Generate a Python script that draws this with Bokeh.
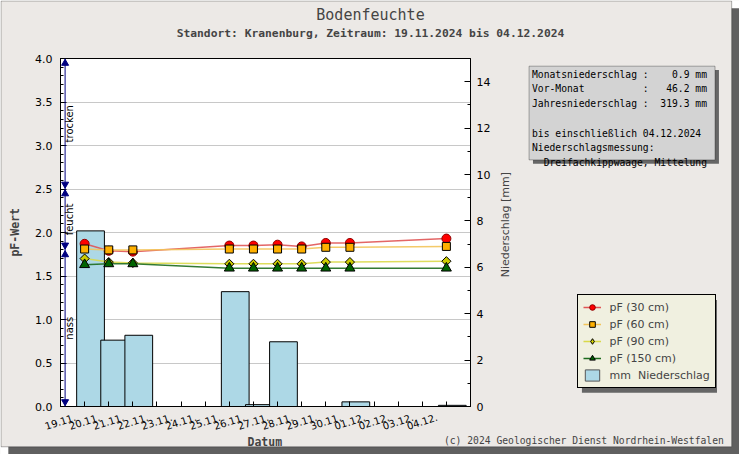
import math
import re
import pandas as pd
from bokeh.plotting import figure
from bokeh.models import (Range1d, LinearAxis, FixedTicker, SingleIntervalTicker,
                          PrintfTickFormatter, Label, BoxAnnotation, Legend,
                          LegendItem, Grid, Span, GridBox)
from bokeh.embed import file_html
from bokeh.resources import INLINE

# ---------------- data ----------------
START = "2024-11-19"
x_tick_labels = ["19.11.", "20.11.", "21.11.", "22.11.", "23.11.", "24.11.", "25.11.",
                 "26.11.", "27.11.", "28.11.", "29.11.", "30.11.", "01.12.", "02.12.",
                 "03.12.", "04.12."]

pf_dates = ["2024-11-20", "2024-11-21", "2024-11-22", "2024-11-26", "2024-11-27",
            "2024-11-28", "2024-11-29", "2024-11-30", "2024-12-01", "2024-12-05"]
pf_30 = [1.87, 1.79, 1.78, 1.85, 1.85, 1.86, 1.84, 1.88, 1.88, 1.93]
pf_60 = [1.81, 1.80, 1.80, 1.81, 1.81, 1.81, 1.81, 1.83, 1.83, 1.84]
pf_90 = [1.70, 1.66, 1.65, 1.64, 1.64, 1.64, 1.64, 1.66, 1.66, 1.67]
pf_150 = [1.63, 1.64, 1.64, 1.59, 1.59, 1.59, 1.59, 1.59, 1.59, 1.59]

rain_dates = ["2024-11-20", "2024-11-21", "2024-11-22", "2024-11-26", "2024-11-27",
              "2024-11-28", "2024-12-01", "2024-12-05"]
rain_mm = [7.57, 2.86, 3.07, 4.95, 0.08, 2.79, 0.20, 0.05]

zone_names = ["nass", "feucht", "trocken"]
zone_low = [0.0, 1.8, 2.5]
zone_high = [1.8, 2.5, 4.0]

info_lines = [
    "Monatsniederschlag :    0.9 mm",
    "Vor-Monat          :   46.2 mm",
    "Jahresniederschlag :  319.3 mm",
    "",
    "bis einschließlich 04.12.2024",
    "Niederschlagsmessung:",
    "  Dreifachkippwaage, Mittelung",
]

title_text = "Bodenfeuchte"
subtitle_text = "Standort: Kranenburg, Zeitraum: 19.11.2024 bis 04.12.2024"
copyright_text = "(c) 2024 Geologischer Dienst Nordrhein-Westfalen"

# ---------------- helpers ----------------
def day_index(dates):
    s = pd.Timestamp(START)
    return [(pd.Timestamp(d) - s).days for d in dates]


def keep_spaces(s):
    # runs of spaces would collapse in SVG text: use no-break spaces for them
    s = re.sub(r" {2,}", lambda m: "\u00a0" * len(m.group(0)), s)
    return s if s else "\u00a0"


W, H = 739, 454
SX, SY = W / 755, H / 470          # reference layout -> canvas


def ox(px):
    return px * SX


def oy(py):
    return py * SY


X_DAYS = 17
FL, FR = round(ox(61)), round(ox(480))
FT, FB = round(oy(60)), round(oy(420))
FW, FH = FR - FL, FB - FT


def day_x(px):          # reference pixel x -> day axis value
    return (ox(px) - FL) / FW * X_DAYS


BG = "#ece9e6"
MONO = "DejaVu Sans Mono"
SANS = "DejaVu Sans"
NAN = float("nan")

# ================= main chart =================
p = figure(width=W, height=H, x_range=Range1d(0, X_DAYS), y_range=Range1d(0, 4),
           output_backend="svg", toolbar_location=None,
           x_axis_type=None, y_axis_type=None,
           min_border_left=FL, min_border_right=W - FR,
           min_border_top=FT, min_border_bottom=H - FB,
           background_fill_color="white", border_fill_color=BG,
           outline_line_color="black", outline_line_width=1)
p.frame_align = False
p.extra_y_ranges = {"rain": Range1d(0, 15)}

left = LinearAxis(ticker=SingleIntervalTicker(interval=0.5, num_minor_ticks=5),
                  formatter=PrintfTickFormatter(format="%.1f"),
                  major_tick_in=6, major_tick_out=0, minor_tick_in=3, minor_tick_out=0,
                  major_label_standoff=8, major_label_text_font=SANS,
                  major_label_text_font_size="11px", major_label_text_color="black",
                  axis_line_color="black", major_tick_line_color="black",
                  minor_tick_line_color="black")
p.add_layout(left, "left")

right = LinearAxis(y_range_name="rain",
                   ticker=SingleIntervalTicker(interval=2, num_minor_ticks=2),
                   major_tick_in=6, major_tick_out=0, minor_tick_in=3, minor_tick_out=0,
                   major_label_standoff=6, major_label_text_font=SANS,
                   major_label_text_font_size="11px", major_label_text_color="black",
                   axis_line_color="black", major_tick_line_color="black",
                   minor_tick_line_color="black")
p.add_layout(right, "right")

LABEL_SHIFT = 0.62
label_pos = [round(i + LABEL_SHIFT, 3) for i in range(len(x_tick_labels))]
bottom = LinearAxis(ticker=FixedTicker(ticks=label_pos, minor_ticks=list(range(X_DAYS))),
                    major_label_overrides={lp: t for lp, t in zip(label_pos, x_tick_labels)},
                    major_label_orientation=0.31,
                    major_tick_in=0, major_tick_out=0, minor_tick_in=5, minor_tick_out=0,
                    major_label_standoff=10, major_label_text_font=SANS,
                    major_label_text_font_size="10px", major_label_text_color="black",
                    axis_line_color="black", minor_tick_line_color="black")
p.add_layout(bottom, "below")

p.add_layout(Grid(dimension=1, ticker=left.ticker, grid_line_color="#c8c8c8"))

# rain bars
BAR_FILL = "#add8e6"
rx = [d + 0.245 for d in day_index(rain_dates)]
bars = p.vbar(x=rx, top=rain_mm, width=1.15, bottom=0, y_range_name="rain",
              fill_color=BAR_FILL, line_color="black", line_width=1)

# pF series: (values, line colour, marker, size, angle, fill, outline, label,
#             legend marker, legend size)
series = [
    (pf_30, "#e05555", "circle", 9, 0, "#ff0000", "#900000", "pF (30 cm)", "circle", 9),
    (pf_60, "#f3c45a", "square", 8, 0, "#ffb000", "black", "pF (60 cm)", "square", 8),
    (pf_90, "#d9d94a", "square", 6.5, math.pi / 4, "#cccc00", "black", "pF (90 cm)",
     "diamond", 11),
    (pf_150, "#1d6b1d", "triangle", 10, 0, "#006400", "black", "pF (150 cm)", "triangle", 10),
]
pxs = day_index(pf_dates)
for vals, lc, mk, sz, ang, fc, mlc, lab, lmk, lsz in series:
    p.line(pxs, vals, line_color=lc, line_width=1.5, line_alpha=0.9)
    p.scatter(pxs, vals, marker=mk, size=sz, angle=ang, fill_color=fc,
              line_color=mlc, line_width=1)

# moisture zones on the left axis
ax = day_x(66)
p.add_layout(Span(location=ax, dimension="height", line_color="#000080", line_width=1))
arrow_y, arrow_m = [], []
for lo, hi in zip(zone_low, zone_high):
    arrow_y += [hi - 0.055, lo + 0.055]
    arrow_m += ["triangle", "inverted_triangle"]
p.scatter([ax] * len(arrow_y), arrow_y, marker=arrow_m, size=7,
          fill_color="#000080", line_color="#000080")
for name, lo, hi in zip(zone_names, zone_low, zone_high):
    p.add_layout(Label(x=day_x(71), y=(lo + hi) / 2, text=name, angle=math.pi / 2,
                       text_align="center", text_baseline="middle",
                       text_font=SANS, text_font_size="10px", text_color="black"))

# ================= overlay for frame, texts, info box and legend =================
ov = figure(width=W, height=H, x_range=Range1d(0, W), y_range=Range1d(H, 0),
            output_backend="svg", toolbar_location=None,
            x_axis_type=None, y_axis_type=None,
            min_border=0, min_border_left=0, min_border_right=0,
            min_border_top=0, min_border_bottom=0,
            background_fill_alpha=0, border_fill_alpha=0, outline_line_color=None)
ov.frame_align = False

# image frame with drop shadow
IR, IB = ox(747), oy(462)
ov.add_layout(BoxAnnotation(left=IR, right=W, top=0, bottom=H, fill_color="white",
                            fill_alpha=1, line_color=None))
ov.add_layout(BoxAnnotation(left=0, right=W, top=IB, bottom=H, fill_color="white",
                            fill_alpha=1, line_color=None))
ov.add_layout(BoxAnnotation(left=IR, right=W, top=oy(8), bottom=H, fill_color="#606060",
                            fill_alpha=1, line_color=None))
ov.add_layout(BoxAnnotation(left=ox(8), right=W, top=IB, bottom=H, fill_color="#606060",
                            fill_alpha=1, line_color=None))
ov.add_layout(BoxAnnotation(left=0.5, right=IR, top=0.5, bottom=IB, fill_alpha=0,
                            line_color="black", line_width=1))

# info box
ov.add_layout(BoxAnnotation(left=ox(544), right=ox(734), top=oy(72), bottom=oy(169),
                            fill_color="#666666", fill_alpha=1, line_color=None))
ov.add_layout(BoxAnnotation(left=ox(540), right=ox(730), top=oy(68), bottom=oy(165),
                            fill_color="#d3d3d3", fill_alpha=1, line_color="black",
                            line_width=1))
ov.add_layout(Label(x=ox(543), y=oy(70.5), text="\n".join(keep_spaces(s) for s in info_lines),
                    text_align="left", text_baseline="top", text_font=MONO,
                    text_font_size="9.7px", text_line_height=1.34, text_color="black"))

# legend (swatches styled like the chart's series; NaN points are never drawn)
items = []
for vals, lc, mk, sz, ang, fc, mlc, lab, lmk, lsz in series:
    rl = ov.line(x=[NAN], y=[NAN], line_color=lc, line_width=1.5)
    rm = ov.scatter(x=[NAN], y=[NAN], marker=lmk, size=lsz, fill_color=fc,
                    line_color=mlc, line_width=1)
    items.append(LegendItem(label=lab, renderers=[rl, rm]))
rb = ov.vbar(x=[NAN], top=[NAN], width=1, fill_color=BAR_FILL, line_color="#555555")
items.append(LegendItem(label="mm\u00a0 Niederschlag", renderers=[rb]))

ov.add_layout(BoxAnnotation(left=ox(594), right=ox(732), top=oy(310), bottom=oy(406),
                            fill_color="#666666", fill_alpha=1, line_color=None))
legend = Legend(items=items, location=(ox(590), H - oy(402)),
                background_fill_color="#f0f0e0", background_fill_alpha=1,
                border_line_color="black", border_line_width=1, border_line_alpha=1,
                label_text_font=SANS, label_text_font_size="11px",
                glyph_width=18, glyph_height=14, label_height=14, spacing=3,
                padding=5, margin=0, label_standoff=8)
ov.add_layout(legend)

# texts around the chart
ov.add_layout(Label(x=ox(378), y=oy(15), text=title_text, text_align="center",
                    text_baseline="middle", text_font=MONO, text_font_size="15px"))
ov.add_layout(Label(x=ox(378), y=oy(34), text=subtitle_text, text_align="center",
                    text_baseline="middle", text_font=MONO, text_font_size="11.3px",
                    text_font_style="bold"))
ov.add_layout(Label(x=ox(15), y=oy(240), text="pF-Wert", angle=math.pi / 2,
                    text_align="center", text_baseline="middle", text_font=MONO,
                    text_font_size="11.5px", text_font_style="bold"))
ov.add_layout(Label(x=ox(516), y=oy(232), text="Niederschlag [mm]", angle=math.pi / 2,
                    text_align="center", text_baseline="middle", text_font=SANS,
                    text_font_size="11px"))
ov.add_layout(Label(x=ox(270), y=oy(457), text="Datum", text_align="center",
                    text_baseline="middle", text_font=MONO, text_font_size="11.5px",
                    text_font_style="bold"))
ov.add_layout(Label(x=ox(453), y=oy(455), text=copyright_text, text_align="left",
                    text_baseline="middle", text_font=MONO, text_font_size="9.7px"))

layout = GridBox(children=[(p, 0, 0), (ov, 0, 0)])
open("out.html", "w").write(file_html(layout, INLINE))
